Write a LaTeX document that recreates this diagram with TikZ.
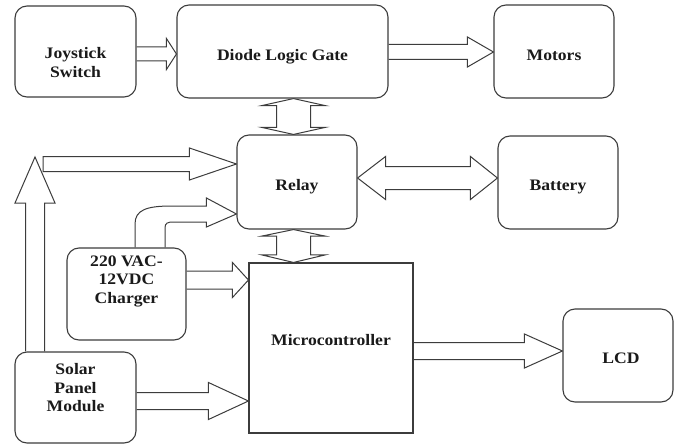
\documentclass[tikz,border=0pt]{standalone}
\usepackage{fontspec}
\setmainfont{Liberation Serif}[FakeStretch=1.1]
\usetikzlibrary{calc}
\pgfdeclarelayer{bg}
\pgfsetlayers{bg,main}
\definecolor{lc}{HTML}{3C3C3C}
\definecolor{txt}{HTML}{1A1A1A}
% right-pointing block arrow: #1 tail anchor, #2 tip anchor, #3 tip dy, #4 shaft half, #5 head length, #6 head half
\newcommand\rarr[6]{\draw[arr] let \p1=(#1), \p2=($(#2)+(0,#3)$) in
  (\x1,\y2+#4) -- (\x2-#5,\y2+#4) -- (\x2-#5,\y2+#6) -- (\p2) -- (\x2-#5,\y2-#6) -- (\x2-#5,\y2-#4) -- (\x1,\y2-#4);}
\begin{document}
\begin{tikzpicture}[x=1pt,y=-1pt,
  box/.style={draw=lc, line width=1.1pt, rounded corners=12pt, fill=white, inner sep=0pt},
  lbl/.style={font=\fontsize{16}{18.5}\selectfont\bfseries, text=txt, align=center},
  arr/.style={draw=lc, line width=1pt, fill=white, line join=miter}]
\useasboundingbox (0,0) rectangle (674,444);

\node[box, minimum width=121pt, minimum height=91pt,
  label={[lbl,yshift=-11pt]center:{Joystick\\Switch}}] (joy) at (75.5,51.5) {};
\node[box, minimum width=211pt, minimum height=93pt,
  label={[lbl,yshift=-5.5pt]center:{Diode Logic Gate}}] (diode) at (282.5,51.5) {};
\node[box, minimum width=120pt, minimum height=93pt,
  label={[lbl,yshift=-3.5pt]center:{Motors}}] (motors) at (554,51.5) {};
\node[box, minimum width=120pt, minimum height=94pt,
  label={[lbl,yshift=-5pt]center:{Relay}}] (relay) at (297,182) {};
\node[box, minimum width=120pt, minimum height=93pt,
  label={[lbl,yshift=-4.5pt]center:{Battery}}] (battery) at (558,182.5) {};
\node[box, minimum width=119pt, minimum height=92pt,
  label={[lbl,yshift=13pt]center:{220 VAC-\\12VDC\\Charger}}] (charger) at (126.5,294) {};
\node[box, rounded corners=0pt, minimum width=164pt, minimum height=170pt,
  label={[lbl,yshift=8pt]center:{Microcontroller}}] (micro) at (331,348) {};
\node[box, minimum width=121pt, minimum height=91pt,
  label={[lbl,yshift=9.5pt]center:{Solar\\Panel\\Module}}] (solar) at (75.5,397.5) {};
\node[box, minimum width=110pt, minimum height=93pt,
  label={[lbl,yshift=-2.5pt,xshift=3pt]center:{LCD}}] (lcd) at (618,355.5) {};

\coordinate (uptip) at (35,157);

\begin{pgfonlayer}{bg}
% simple right arrows
\rarr{joy.east}{diode.west}{2.5}{7pt}{10pt}{15.5pt}
\rarr{diode.east}{motors.west}{0.5}{7.5pt}{26pt}{15pt}
\rarr{micro.east}{lcd.west}{-4.5}{8.5pt}{38pt}{17pt}
\rarr{charger.east}{micro.west}{-68}{9pt}{16pt}{17.5pt}
\rarr{solar.east}{micro.west}{53}{8.5pt}{40pt}{18.5pt}
% relay <-> battery
\draw[arr] let \p1=($(relay.east)+(0,-4)$), \p2=($(battery.west)+(0,-4.5)$) in
  (\p1) -- (\x1+28pt,\y1+21.5pt) -- (\x1+28pt,\y1+11.5pt) -- (\x2-27pt,\y1+11.5pt)
  -- (\x2-27pt,\y1+21.5pt) -- (\x2,\y1) -- (\x2-27pt,\y1-21.5pt) -- (\x2-27pt,\y1-11.5pt)
  -- (\x1+28pt,\y1-11.5pt) -- (\x1+28pt,\y1-21.5pt) -- cycle;
% diode <-> relay
\draw[arr] let \p1=(diode.south), \p2=($(relay.north)+(-3.5,0)$) in
  (\x2,\y1) -- (\x2+31.5pt,\y1-7pt) -- (\x2+17pt,\y1-7pt) -- (\x2+17pt,\y2+7pt)
  -- (\x2+31.5pt,\y2+7pt) -- (\x2,\y2) -- (\x2-31.5pt,\y2+7pt) -- (\x2-17pt,\y2+7pt)
  -- (\x2-17pt,\y1-7pt) -- (\x2-31.5pt,\y1-7pt) -- cycle;
% relay <-> micro
\draw[arr] let \p1=($(relay.south)+(-3.5,0)$), \p2=(micro.north) in
  (\x1,\y1) -- (\x1+31.5pt,\y1-6.5pt) -- (\x1+17pt,\y1-6.5pt) -- (\x1+17pt,\y2+7.5pt)
  -- (\x1+31.5pt,\y2+7.5pt) -- (\x1,\y2) -- (\x1-31.5pt,\y2+7.5pt) -- (\x1-17pt,\y2+7.5pt)
  -- (\x1-17pt,\y1-6.5pt) -- (\x1-31.5pt,\y1-6.5pt) -- cycle;
% solar up arrow
\draw[arr] let \p1=($(solar.north)+(-40.5,0)$), \p2=(uptip) in
  (\x2-9.5pt,\y1) -- (\x2-9.5pt,\y2-46pt) -- (\x2-20pt,\y2-46pt) -- (\p2)
  -- (\x2+20pt,\y2-46pt) -- (\x2+9.5pt,\y2-46pt) -- (\x2+9.5pt,\y1);
% horizontal arrow to relay
\draw[arr] let \p1=($(uptip)+(8,0)$), \p2=($(relay.west)+(0,-18)$) in
  (\x1,\y2+7.5pt) -- (\x2-47pt,\y2+7.5pt) -- (\x2-47pt,\y2+16pt) -- (\p2)
  -- (\x2-47pt,\y2-16pt) -- (\x2-47pt,\y2-7.5pt) -- (\x1,\y2-7.5pt) -- cycle;
% curved arrow charger -> relay
\draw[arr] let \p1=(charger.north), \p2=($(relay.west)+(0,32)$) in
  (\x1+8.5pt,\y1) -- (\x1+8.5pt,\y2-10pt)
  .. controls (\x1+8.5pt,\y2+4pt) and (\x1+20pt,\y2+8pt) .. (\x1+45pt,\y2+8pt)
  -- (\x2-30pt,\y2+8pt) -- (\x2-30pt,\y2+16pt) -- (\p2) -- (\x2-30pt,\y2-13pt)
  -- (\x2-30pt,\y2-8pt) -- (\x1+47pt,\y2-8pt)
  .. controls (\x1+41pt,\y2-8pt) and (\x1+38.5pt,\y2-9pt) .. (\x1+38.5pt,\y2-14pt)
  -- (\x1+38.5pt,\y1);
\end{pgfonlayer}
\end{tikzpicture}
\end{document}
